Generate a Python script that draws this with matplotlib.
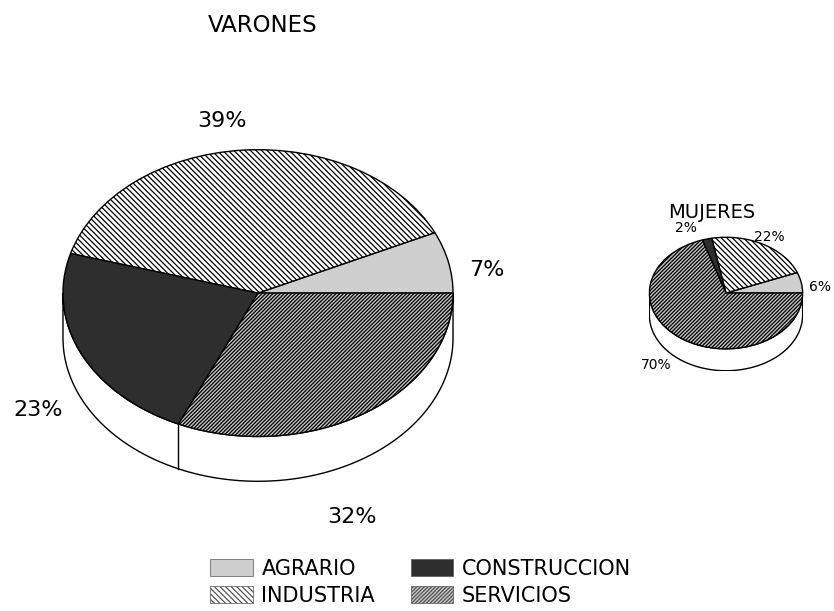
import matplotlib
matplotlib.use("Agg")
import matplotlib.pyplot as plt
from matplotlib.patches import Patch
import numpy as np

W, H = 834, 611

sectores = ["AGRARIO", "INDUSTRIA", "CONSTRUCCION", "SERVICIOS"]
varones = [7, 39, 23, 32]
mujeres = [6, 22, 2, 70]
etiq_varones = ["7%", "39%", "23%", "32%"]
etiq_mujeres = ["6%", "22%", "2%", "70%"]

colores = ["#cfcfcf", "white", "#2e2e2e", "#c4c4c4"]
tramas = ["", "\\" * 6, "", "/" * 9]

plt.rcParams["hatch.linewidth"] = 0.9


def px_axes(fig, cx, cy, rx, ry, depth):
    # axes whose data units are the pie radius, so a unit circle is an ellipse
    ax = fig.add_axes([(cx - rx) / W, 1 - (cy + ry + depth) / H,
                       2 * rx / W, (2 * ry + depth) / H])
    return ax


def draw_pie(fig, vals, cx, cy, rx, ry, depth):
    ax = px_axes(fig, cx, cy, rx, ry, depth)
    d = depth / ry
    # side wall (front half only)
    t = np.linspace(np.pi, 2 * np.pi, 200)
    xs = np.concatenate([np.cos(t), np.cos(t[::-1])])
    ys = np.concatenate([np.sin(t), np.sin(t[::-1]) - d])
    ax.fill(xs, ys, facecolor="white", edgecolor="black", linewidth=1.0)
    wedges, _ = ax.pie(vals, colors=colores, hatch=tramas, startangle=0,
                       counterclock=True, radius=1, center=(0, 0),
                       wedgeprops=dict(edgecolor="black", linewidth=1.0))
    # vertical edges where slices meet on the visible side
    angs = 360 * np.cumsum(vals) / np.sum(vals)
    for a in angs:
        if 180 < a < 359:
            r = np.deg2rad(a)
            ax.plot([np.cos(r), np.cos(r)], [np.sin(r), np.sin(r) - d],
                    color="black", linewidth=1.0)
    ax.set_aspect("auto")
    ax.set_xlim(-1.005, 1.005)
    ax.set_ylim(-1 - d - 0.005, 1.005)
    ax.axis("off")
    return ax


fig = plt.figure(figsize=(W / 100, H / 100), dpi=100)
bg = fig.add_axes([0, 0, 1, 1])
bg.set_xlim(0, W)
bg.set_ylim(H, 0)
bg.axis("off")

draw_pie(fig, varones, 258, 293, 196, 144, 45)
draw_pie(fig, mujeres, 726, 293, 77, 56, 22)

bg.text(263, 25, "VARONES", fontsize=16.5, ha="center", va="center")
bg.text(712, 213, "MUJERES", fontsize=14, ha="center", va="center")

pos_varones = [(487, 270), (222, 121), (38, 410), (352, 517)]
for (x, y), s in zip(pos_varones, etiq_varones):
    bg.text(x, y, s, fontsize=16, ha="center", va="center")

pos_mujeres = [(820, 287), (769, 237), (686, 228), (656, 365)]
for (x, y), s in zip(pos_mujeres, etiq_mujeres):
    bg.text(x, y, s, fontsize=10, ha="center", va="center")

handles = [Patch(facecolor=c, hatch=h, edgecolor="#555555", linewidth=0.5)
           for c, h in zip(colores, tramas)]
fig.legend(handles, sectores, ncol=2, frameon=False, fontsize=15,
           loc="upper left", bbox_to_anchor=(210 / W, 1 - 559 / H),
           borderaxespad=0, borderpad=0, handlelength=2.05, handleheight=0.9,
           handletextpad=0.42, labelspacing=0.33, columnspacing=1.7)

fig.savefig("out.png", dpi=100)
